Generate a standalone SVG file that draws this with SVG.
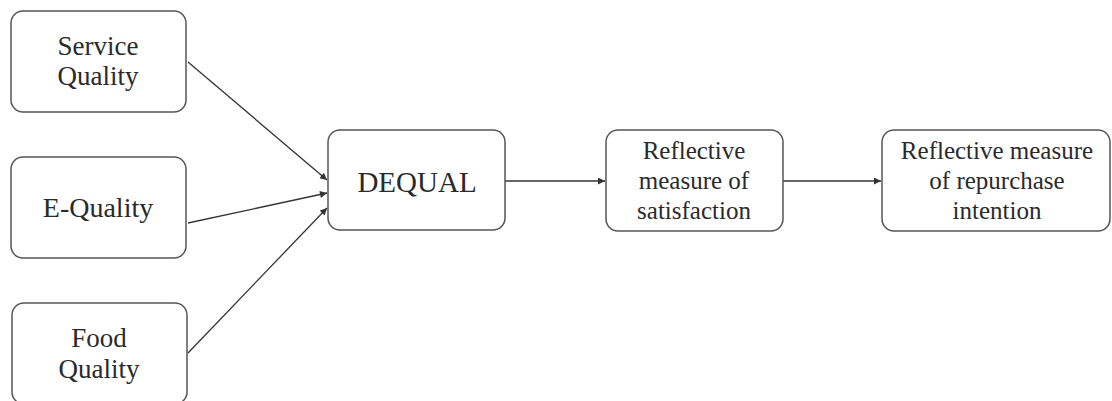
<svg xmlns="http://www.w3.org/2000/svg" width="1112" height="401" viewBox="0 0 1112 401">
  <style>
    .box { fill: #ffffff; stroke: #555555; stroke-width: 1.5; }
    .lbl { fill: #2a2a2a; text-anchor: middle; }
    .edge { stroke: #333333; stroke-width: 1.3; fill: none; marker-end: url(#arrow); }
  </style>
  <defs>
    <marker id="arrow" viewBox="0 0 10 10" refX="10" refY="5" markerWidth="8" markerHeight="7" markerUnits="userSpaceOnUse" orient="auto">
      <path d="M0,0 L10,5 L0,10 z" fill="#333333"/>
    </marker>
  </defs>
  <rect width="1112" height="401" fill="#ffffff"/>

  <g id="connectors">
    <line class="edge" x1="188" y1="62" x2="327" y2="180"/>
    <line class="edge" x1="188" y1="223" x2="327" y2="193"/>
    <line class="edge" x1="188" y1="353" x2="327" y2="208"/>
    <line class="edge" x1="505" y1="181" x2="605" y2="181"/>
    <line class="edge" x1="783" y1="181" x2="881" y2="181"/>
  </g>

  <g font-family="'Liberation Serif', 'DejaVu Serif', serif">
    <g id="service-quality">
      <rect class="box" x="11" y="11" width="175" height="101" rx="12"/>
      <text class="lbl" font-size="27" x="98" y="55">Service</text>
      <text class="lbl" font-size="27" x="98" y="85">Quality</text>
    </g>

    <g id="e-quality">
      <rect class="box" x="11" y="157" width="175" height="101" rx="12"/>
      <text class="lbl" font-size="28" x="98" y="217">E-Quality</text>
    </g>

    <g id="food-quality">
      <rect class="box" x="12" y="303" width="175" height="101" rx="12"/>
      <text class="lbl" font-size="27" x="99" y="347">Food</text>
      <text class="lbl" font-size="27" x="99" y="378">Quality</text>
    </g>

    <g id="dequal">
      <rect class="box" x="328" y="130" width="177" height="100" rx="12"/>
      <text class="lbl" font-size="29" x="417" y="192">DEQUAL</text>
    </g>

    <g id="satisfaction">
      <rect class="box" x="606" y="130" width="177" height="101" rx="12"/>
      <text class="lbl" font-size="25" x="694" y="159">Reflective</text>
      <text class="lbl" font-size="25" x="694" y="189">measure of</text>
      <text class="lbl" font-size="25" x="694" y="219">satisfaction</text>
    </g>

    <g id="repurchase-intention">
      <rect class="box" x="882" y="130" width="228" height="101" rx="12"/>
      <text class="lbl" font-size="25" x="997" y="159">Reflective measure</text>
      <text class="lbl" font-size="25" x="997" y="189">of repurchase</text>
      <text class="lbl" font-size="25" x="997" y="219">intention</text>
    </g>
  </g>
</svg>
